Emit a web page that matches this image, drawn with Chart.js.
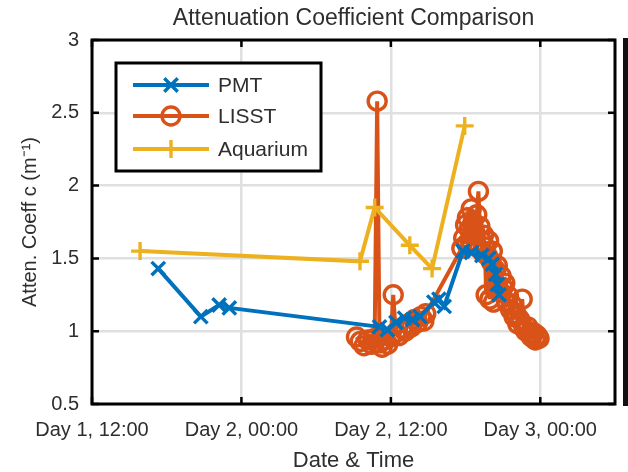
<!DOCTYPE html>
<html><head><meta charset="utf-8">
<script src="https://cdn.jsdelivr.net/npm/chart.js@4.4.1/dist/chart.umd.min.js"></script>
<style>html,body{margin:0;padding:0;background:#fff;}canvas{display:block;}</style>
</head><body>
<canvas id="c" width="628" height="472"></canvas>
<script>
const titleText = 'Attenuation Coefficient Comparison';
const xAxisTitle = 'Date & Time';
const yAxisTitle = 'Atten. Coeff c (m\u207B\u00B9)';
const xTickHours = [12, 24, 36, 48];
const xTickLabels = ['Day 1, 12:00', 'Day 2, 00:00', 'Day 2, 12:00', 'Day 3, 00:00'];
const yTickValues = [0.5, 1, 1.5, 2, 2.5, 3];
const yTickLabels = ['0.5', '1', '1.5', '2', '2.5', '3'];
const seriesNames = ['PMT', 'LISST', 'Aquarium'];

const pmtHours  = [17.32, 20.74, 22.21, 23.03, 35.09, 35.72, 36.41, 37.10, 37.74, 38.34, 39.45, 39.86, 40.28, 41.79, 42.48, 43.31, 43.86, 44.14, 44.41, 44.55, 44.69];
const pmtValues = [1.43, 1.10, 1.18, 1.16, 1.03, 1.01, 1.06, 1.09, 1.08, 1.10, 1.20, 1.22, 1.17, 1.55, 1.54, 1.52, 1.50, 1.46, 1.39, 1.32, 1.25];

const lisstHours  = [33.24, 33.55, 33.85, 34.15, 34.45, 34.70, 34.90, 35.09, 35.30, 35.50, 35.75, 36.00, 36.19, 36.40, 36.65, 36.90, 37.15, 37.40, 37.65, 37.90, 38.15, 38.40, 38.65, 38.80,
  41.70, 41.85, 42.00, 42.10, 42.15, 42.30, 42.40, 42.45, 42.60, 42.75, 42.85, 42.90, 43.03, 43.15, 43.30, 43.40, 43.45, 43.55, 43.65, 43.75, 43.85, 43.95, 44.05, 44.15, 44.25, 44.40, 44.55, 44.70, 44.85, 45.00,
  45.15, 45.30, 45.45, 45.60, 45.75, 45.90, 46.05, 46.20, 46.35, 46.55, 46.70, 46.85, 47.00, 47.15, 47.30, 47.45, 47.60, 47.75, 47.90];
const lisstValues = [0.96, 0.93, 0.90, 0.94, 0.91, 0.95, 2.58, 0.92, 0.89, 0.94, 0.91, 0.96, 1.25, 0.99, 0.97, 1.02, 1.00, 1.05, 1.03, 1.08, 1.06, 1.10, 1.07, 1.12,
  1.57, 1.64, 1.73, 1.60, 1.78, 1.70, 1.62, 1.84, 1.75, 1.68, 1.58, 1.80, 1.96, 1.72, 1.62, 1.54, 1.66, 1.58, 1.25, 1.52, 1.62, 1.22, 1.48, 1.55, 1.20, 1.42, 1.45, 1.28, 1.38, 1.30,
  1.33, 1.20, 1.24, 1.15, 1.18, 1.10, 1.12, 1.05, 1.08, 1.22, 1.02, 1.00, 1.03, 0.98, 0.96, 0.99, 0.94, 0.97, 0.95];

const aquaHours  = [15.86, 33.52, 34.70, 37.52, 39.31, 41.93];
const aquaValues = [1.55, 1.48, 1.85, 1.59, 1.43, 2.41];

const seriesColors = ['#0072BD', '#D95319', '#EDB120'];
const textColor = '#2e2e2e';
const fontFamily = '"Liberation Sans", Arial, Helvetica, sans-serif';

const toPts = (xs, ys) => xs.map((x, i) => ({x: x, y: ys[i]}));

const common = {borderWidth: 4, pointBorderWidth: 3.4, pointBackgroundColor: 'rgba(0,0,0,0)', tension: 0, fill: false};
const datasets = [
  Object.assign({label: seriesNames[0], data: toPts(pmtHours, pmtValues), borderColor: seriesColors[0], pointBorderColor: seriesColors[0], pointStyle: 'crossRot', pointRadius: 9.5, order: 2}, common),
  Object.assign({label: seriesNames[1], data: toPts(lisstHours, lisstValues), borderColor: seriesColors[1], pointBorderColor: seriesColors[1], pointStyle: 'circle', pointRadius: 9, order: 3}, common),
  Object.assign({label: seriesNames[2], data: toPts(aquaHours, aquaValues), borderColor: seriesColors[2], pointBorderColor: seriesColors[2], pointStyle: 'cross', pointRadius: 9, order: 1}, common)
];

const frame = {
  id: 'frame',
  afterDraw(chart) {
    const ctx = chart.ctx, a = chart.chartArea;
    const xs = chart.scales.x, ys = chart.scales.y;
    ctx.save();
    ctx.strokeStyle = '#000';
    ctx.lineWidth = 2.5;
    const tl = 7;
    xTickHours.forEach(v => {
      const p = xs.getPixelForValue(v);
      ctx.beginPath();
      ctx.moveTo(p, a.top); ctx.lineTo(p, a.top + tl);
      ctx.moveTo(p, a.bottom); ctx.lineTo(p, a.bottom - tl);
      ctx.stroke();
    });
    yTickValues.forEach(v => {
      const p = ys.getPixelForValue(v);
      ctx.beginPath();
      ctx.moveTo(a.left, p); ctx.lineTo(a.left + tl, p);
      ctx.moveTo(a.right, p); ctx.lineTo(a.right - tl, p);
      ctx.stroke();
    });
    ctx.lineWidth = 3;
    ctx.strokeRect(a.left, a.top, a.right - a.left, a.bottom - a.top);
    // neighbouring panel edge at far right
    ctx.fillStyle = '#111';
    ctx.fillRect(a.right + 8, a.top - 2, 6, a.bottom - a.top + 4);

    // legend
    const bx = a.left + 24, by = a.top + 23, bw = 205, bh = 108;
    ctx.fillStyle = '#fff';
    ctx.fillRect(bx, by, bw, bh);
    ctx.lineWidth = 3;
    ctx.strokeStyle = '#000';
    ctx.strokeRect(bx, by, bw, bh);
    const rows = [22, 53, 86];
    chart.data.datasets.forEach((ds, i) => {
      const y = by + rows[i];
      ctx.strokeStyle = ds.borderColor;
      ctx.lineWidth = ds.borderWidth;
      ctx.beginPath();
      ctx.moveTo(bx + 17, y); ctx.lineTo(bx + 93, y);
      ctx.stroke();
      ctx.fillStyle = 'rgba(0,0,0,0)';
      ctx.strokeStyle = ds.pointBorderColor;
      ctx.lineWidth = ds.pointBorderWidth;
      Chart.helpers.drawPoint(ctx, {pointStyle: ds.pointStyle, radius: ds.pointRadius, borderWidth: ds.pointBorderWidth, rotation: 0}, bx + 55, y);
      ctx.fillStyle = textColor;
      ctx.font = '21px ' + fontFamily;
      ctx.textBaseline = 'middle';
      ctx.textAlign = 'left';
      ctx.fillText(ds.label, bx + 102, y + 1);
    });
    ctx.restore();
  }
};

new Chart(document.getElementById('c'), {
  type: 'line',
  data: {datasets: datasets},
  plugins: [frame],
  options: {
    responsive: false,
    animation: false,
    layout: {padding: {left: 0, right: 13, top: 0, bottom: 0}},
    plugins: {
      legend: {display: false},
      tooltip: {enabled: false},
      title: {
        display: true, text: titleText, fullSize: false, color: textColor,
        font: {family: fontFamily, size: 23, weight: 'normal', lineHeight: 1},
        padding: {top: 7, bottom: 10}
      }
    },
    scales: {
      x: {
        type: 'linear', min: 12, max: 54,
        afterBuildTicks: s => { s.ticks = xTickHours.map(v => ({value: v})); },
        afterFit: s => { s.height = 68; },
        ticks: {
          autoSkip: false, maxRotation: 0, padding: 14, color: textColor,
          font: {family: fontFamily, size: 20},
          callback: v => { const i = xTickHours.indexOf(v); return i >= 0 ? xTickLabels[i] : ''; }
        },
        grid: {color: '#e0e0e0', lineWidth: 2.5, drawTicks: false},
        border: {display: false},
        title: {display: true, text: xAxisTitle, color: textColor, font: {family: fontFamily, size: 22, lineHeight: 1}, padding: {top: 0, bottom: 0}}
      },
      y: {
        type: 'linear', min: 0.5, max: 3,
        afterBuildTicks: s => { s.ticks = yTickValues.map(v => ({value: v})); },
        afterFit: s => { s.width = 92; },
        ticks: {
          padding: 13, color: textColor, font: {family: fontFamily, size: 20},
          callback: v => { const i = yTickValues.indexOf(v); return i >= 0 ? yTickLabels[i] : ''; }
        },
        grid: {color: '#e0e0e0', lineWidth: 2.5, drawTicks: false},
        border: {display: false},
        title: {display: true, text: yAxisTitle, color: textColor, font: {family: fontFamily, size: 20, lineHeight: 1}, padding: {top: 20, bottom: 0}}
      }
    }
  }
});
</script>
</body></html>
